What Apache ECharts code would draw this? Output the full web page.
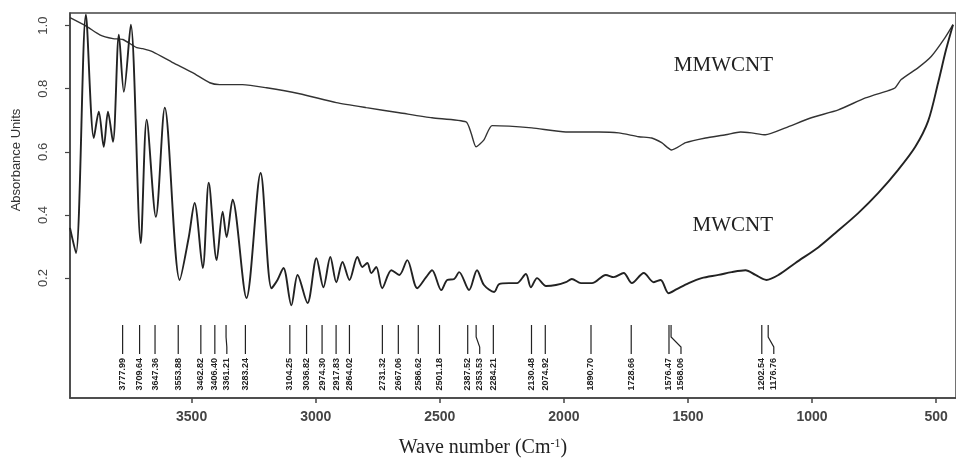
<!DOCTYPE html>
<html>
<head>
<meta charset="utf-8">
<script src="https://cdn.jsdelivr.net/npm/echarts@6/dist/echarts.min.js"></script>
<style>
  html, body { margin: 0; padding: 0; background: #fff; }
  #chart { width: 956px; height: 462px; }
</style>
</head>
<body>
<div id="chart"></div>
<script>
// MWCNT spectrum (lower curve)
const mwcntWave = [3990, 3966, 3926, 3894, 3874, 3854, 3837, 3817, 3793, 3773, 3745, 3705, 3681, 3644, 3608,
  3548, 3512, 3488, 3455, 3431, 3399, 3375, 3359, 3335, 3279, 3222, 3178, 3154, 3130, 3098, 3073, 3033,
  2997, 2969, 2941, 2917, 2892, 2864, 2832, 2812, 2792, 2776, 2756, 2732, 2695, 2663, 2631, 2591, 2555,
  2531, 2494, 2470, 2442, 2422, 2382, 2350, 2322, 2281, 2261, 2221, 2189, 2153, 2133, 2108, 2072, 2032,
  1992, 1968, 1931, 1887, 1831, 1799, 1759, 1726, 1678, 1638, 1610, 1578, 1545, 1497, 1445, 1377, 1324,
  1268, 1228, 1184, 1135, 1067, 974, 906, 814, 733, 653, 584, 532, 492, 460, 432];
const mwcntAbs = [0.359, 0.279, 1.035, 0.644, 0.727, 0.616, 0.727, 0.632, 0.971, 0.790, 1.003, 0.311, 0.702, 0.394, 0.740,
  0.194, 0.327, 0.438, 0.232, 0.502, 0.257, 0.410, 0.330, 0.448, 0.137, 0.533, 0.168, 0.194, 0.232, 0.114, 0.210, 0.121,
  0.263, 0.171, 0.267, 0.187, 0.251, 0.194, 0.267, 0.235, 0.248, 0.216, 0.235, 0.168, 0.225, 0.210, 0.257, 0.168, 0.203,
  0.225, 0.162, 0.194, 0.197, 0.219, 0.162, 0.225, 0.178, 0.156, 0.181, 0.184, 0.184, 0.213, 0.171, 0.200, 0.175, 0.178,
  0.187, 0.197, 0.184, 0.184, 0.210, 0.203, 0.216, 0.184, 0.216, 0.187, 0.194, 0.152, 0.165, 0.184, 0.200, 0.210, 0.219,
  0.225, 0.210, 0.194, 0.210, 0.248, 0.298, 0.343, 0.406, 0.470, 0.543, 0.616, 0.698, 0.819, 0.924, 1.003];

// MMWCNT spectrum (upper curve)
const mmwcntWave = [3990, 3922, 3870, 3817, 3777, 3721, 3697, 3656, 3576, 3496, 3427, 3387, 3295, 3198, 3065,
  2917, 2796, 2663, 2531, 2394, 2374, 2354, 2322, 2289, 2129, 1992, 1859, 1779, 1698, 1646, 1606, 1566,
  1509, 1429, 1348, 1288, 1244, 1188, 1107, 1003, 894, 785, 693, 665, 641, 572, 520, 464, 432];
const mmwcntAbs = [1.025, 0.997, 0.971, 0.959, 0.956, 0.930, 0.927, 0.917, 0.883, 0.851, 0.819, 0.813, 0.813, 0.803, 0.784,
  0.756, 0.740, 0.724, 0.708, 0.695, 0.660, 0.616, 0.638, 0.683, 0.676, 0.663, 0.663, 0.660, 0.648, 0.644, 0.629, 0.606,
  0.629, 0.644, 0.654, 0.663, 0.660, 0.654, 0.676, 0.708, 0.733, 0.771, 0.794, 0.803, 0.829, 0.867, 0.902, 0.962, 1.003];

// peak markers
const peakWaves = [3777.99, 3709.64, 3647.36, 3553.88, 3462.82, 3406.40, 3361.21, 3283.24, 3104.25, 3036.82,
  2974.30, 2917.83, 2864.02, 2731.32, 2667.06, 2586.62, 2501.18, 2387.52, 2353.53, 2284.21, 2130.48, 2074.92,
  1890.70, 1728.66, 1576.47, 1568.06, 1202.54, 1176.76];
const peakLabels = ['3777.99', '3709.64', '3647.36', '3553.88', '3462.82', '3406.40', '3361.21', '3283.24', '3104.25', '3036.82',
  '2974.30', '2917.83', '2864.02', '2731.32', '2667.06', '2586.62', '2501.18', '2387.52', '2353.53', '2284.21', '2130.48', '2074.92',
  '1890.70', '1728.66', '1576.47', '1568.06', '1202.54', '1176.76'];

const xTicks = [3500, 3000, 2500, 2000, 1500, 1000, 500];
const yTicks = [0.2, 0.4, 0.6, 0.8, 1.0];

const zip = (xs, ys) => xs.map((x, i) => [x, ys[i]]);

const chart = echarts.init(document.getElementById('chart'));

const renderPeak = (params, api) => {
  const cs = params.coordSys;
  const bottom = cs.y + cs.height;
  // spread labels so they don't overlap
  const xs = peakWaves.map(w => api.coord([w, 0])[0]);
  const lx = [];
  xs.forEach((x, i) => {
    lx.push(i > 0 ? Math.max(x, lx[i - 1] + 12) : x);
  });
  const i = params.dataIndex;
  const x0 = xs[i], x1 = lx[i];
  const pts = [[x0, bottom - 73], [x0, bottom - 61], [x1, bottom - 51], [x1, bottom - 44]];
  return {
    type: 'group',
    children: [
      {
        type: 'polyline',
        shape: { points: pts },
        style: { stroke: '#222', lineWidth: 1.2, fill: null }
      },
      {
        type: 'text',
        x: x1, y: bottom - 40,
        rotation: Math.PI / 2,
        style: {
          text: peakLabels[i],
          align: 'right', verticalAlign: 'middle',
          font: 'bold 9px "Liberation Sans Narrow", "Liberation Sans", sans-serif',
          fill: '#222'
        }
      }
    ]
  };
};

chart.setOption({
  animation: false,
  backgroundColor: '#fff',
  grid: { left: 70, top: 13, right: -2, bottom: 64, show: true, borderColor: '#444', borderWidth: 1.5 },
  xAxis: {
    type: 'value',
    min: 420, max: 3990,
    inverse: true,
    splitLine: { show: false },
    axisLine: { show: true, onZero: false, lineStyle: { color: '#444', width: 1.5 } },
    axisTick: { show: true, customValues: xTicks, length: 5, lineStyle: { color: '#444', width: 1.5 } },
    axisLabel: { customValues: xTicks, margin: 12, fontSize: 14, fontWeight: 'bold', color: '#444',
      fontFamily: 'Liberation Sans, Arial, sans-serif', formatter: v => String(v) }
  },
  yAxis: {
    type: 'value',
    min: -0.18, max: 1.04,
    splitLine: { show: false },
    axisLine: { show: true, onZero: false, lineStyle: { color: '#444', width: 1.5 } },
    axisTick: { show: true, customValues: yTicks, length: 5, lineStyle: { color: '#444', width: 1.2 } },
    axisLabel: { customValues: yTicks, rotate: 90, margin: 20, fontSize: 13, color: '#444',
      fontFamily: 'Liberation Sans, Arial, sans-serif', formatter: v => v.toFixed(1) }
  },
  series: [
    {
      name: 'MMWCNT', type: 'line', data: zip(mmwcntWave, mmwcntAbs),
      showSymbol: false, smooth: 0.2, silent: true,
      lineStyle: { color: '#333', width: 1.4 }
    },
    {
      name: 'MWCNT', type: 'line', data: zip(mwcntWave, mwcntAbs),
      showSymbol: false, smooth: 0.3, silent: true,
      lineStyle: { color: '#222', width: 1.9 }
    },
    {
      name: 'peaks', type: 'custom', silent: true,
      data: peakWaves.map(w => [w, 0]),
      renderItem: renderPeak
    }
  ],
  graphic: [
    { type: 'text', x: 773, y: 65, style: { text: 'MMWCNT', align: 'right', verticalAlign: 'middle',
      font: '21px "Liberation Serif", serif', fill: '#222' } },
    { type: 'text', x: 773, y: 225, style: { text: 'MWCNT', align: 'right', verticalAlign: 'middle',
      font: '21px "Liberation Serif", serif', fill: '#222' } },
    { type: 'text', x: 16, y: 160, rotation: Math.PI / 2, style: { text: 'Absorbance Units', align: 'center',
      verticalAlign: 'middle', font: '13px "Liberation Sans Narrow", "Liberation Sans", sans-serif', fill: '#333' } },
    { type: 'text', x: 483, y: 448, style: {
      text: 'Wave number (Cm{sup|-1})', align: 'center', verticalAlign: 'middle',
      font: '20px "Liberation Serif", serif', fill: '#222',
      rich: { sup: { fontSize: 12, verticalAlign: 'top', padding: [0, 0, 8, 0], fontFamily: 'Liberation Serif' } }
    } }
  ]
});
</script>
</body>
</html>
